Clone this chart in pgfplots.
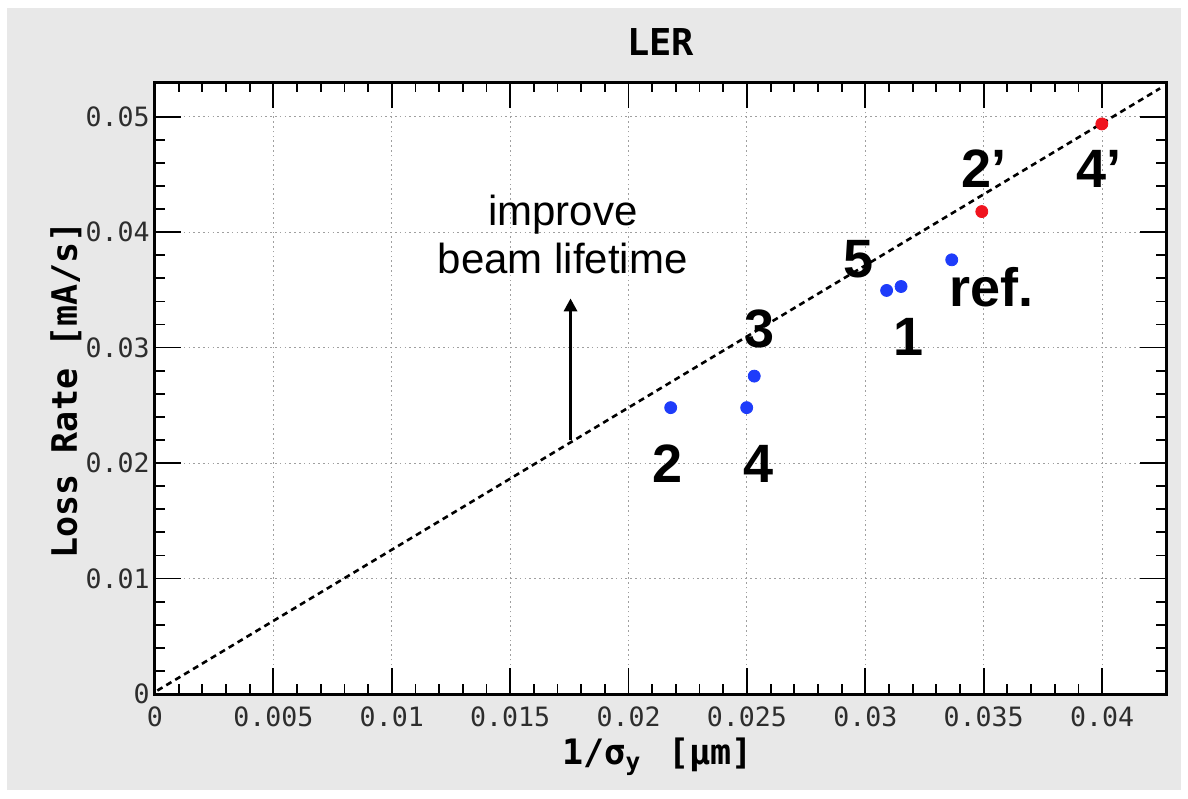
\documentclass[border=0pt]{standalone}
\usepackage{pgfplots}
\pgfplotsset{compat=1.18}
\usetikzlibrary{arrows.meta}
\usepackage{fontspec}
\setmainfont{Liberation Sans}
\newfontfamily\mono{DejaVu Sans Mono}
\definecolor{bggray}{RGB}{232,232,232}
\definecolor{ptblue}{RGB}{30,60,250}
\definecolor{ptred}{RGB}{240,20,30}
\definecolor{tickgray}{RGB}{45,45,45}
\begin{document}
\begin{tikzpicture}
\path[use as bounding box, fill=white] (-77.5pt,-52pt) rectangle (516.5pt,347pt);
\fill[bggray] (-74pt,-48pt) rectangle (513pt,343pt);
\begin{axis}[
  at={(0,0)}, anchor=south west,
  scale only axis, width=505.5pt, height=306pt,
  xmin=0, xmax=0.0427, ymin=0, ymax=0.053,
  axis background/.style={fill=white},
  axis line style={line width=1.5pt},
  scaled ticks=false,
  xtick={0,0.005,0.01,0.015,0.02,0.025,0.03,0.035,0.04},
  xticklabels={0,0.005,0.01,0.015,0.02,0.025,0.03,0.035,0.04},
  ytick={0,0.01,0.02,0.03,0.04,0.05},
  yticklabels={0,0.01,0.02,0.03,0.04,0.05},
  minor x tick num=4, minor y tick num=4,
  major tick length=13pt, minor tick length=5pt,
  every tick/.style={black, line width=0.9pt},
  tick label style={font=\mono\fontsize{13.3}{15}\selectfont, text=tickgray, inner sep=0pt},
  xticklabel style={yshift=-6pt},
  yticklabel style={xshift=-2.5pt},
  grid=major,
  major grid style={gray!75, line width=0.55pt, dash pattern=on 0.8pt off 1.6pt},
  title={LER},
  title style={at={(axis description cs:0.5,1.0245)}, anchor=base, font=\mono\bfseries\fontsize{18.5}{20}\selectfont},
  xlabel={1/σ\textsubscript{y}~\hspace{3pt}[μm]},
  xlabel style={at={(axis description cs:0.497,-0.116)}, anchor=base, font=\mono\bfseries\fontsize{17.5}{20}\selectfont},
  ylabel={Loss Rate [mA/s]},
  ylabel style={at={(axis description cs:-0.0772,0.497)}, anchor=base, font=\mono\bfseries\fontsize{17.5}{20}\selectfont},
]
\addplot[black, line width=1.3pt, dash pattern=on 3pt off 2.2pt] coordinates {(0.0001,0.0003) (0.04245,0.05245)};
\addplot[only marks, mark=*, mark size=3pt, mark options={draw=ptblue, fill=ptblue}] coordinates {
  (0.02178,0.02480) (0.02499,0.02480) (0.02531,0.02753)
  (0.03090,0.03495) (0.03151,0.03529) (0.03365,0.03760)};
\addplot[only marks, mark=*, mark size=3pt, mark options={draw=ptred, fill=ptred}] coordinates {
  (0.03492,0.04178) (0.03999,0.04937)};
\draw[-{Triangle[length=6.5pt,width=6.5pt]}, line width=1.6pt] (axis cs:0.01755,0.02197) -- (axis cs:0.01755,0.03426);
\node[font=\fontsize{21}{24}\selectfont, anchor=base] at (axis cs:0.01722,0.04057) {improve};
\node[font=\fontsize{21}{24}\selectfont, anchor=base] at (axis cs:0.01722,0.03642) {beam lifetime};
\begin{scope}[every node/.style={font=\bfseries\fontsize{27}{30}\selectfont, anchor=base, inner sep=0pt}]
\node at (axis cs:0.02166,0.01834) {2};
\node at (axis cs:0.02550,0.01834) {4};
\node at (axis cs:0.02554,0.03002) {3};
\node at (axis cs:0.02972,0.03607) {5};
\node at (axis cs:0.03183,0.02933) {1};
\node at (axis cs:0.03533,0.03356) {ref.};
\node at (axis cs:0.03500,0.04386) {2'};
\node at (axis cs:0.03985,0.04386) {4'};
\end{scope}
\end{axis}
\end{tikzpicture}
\end{document}
